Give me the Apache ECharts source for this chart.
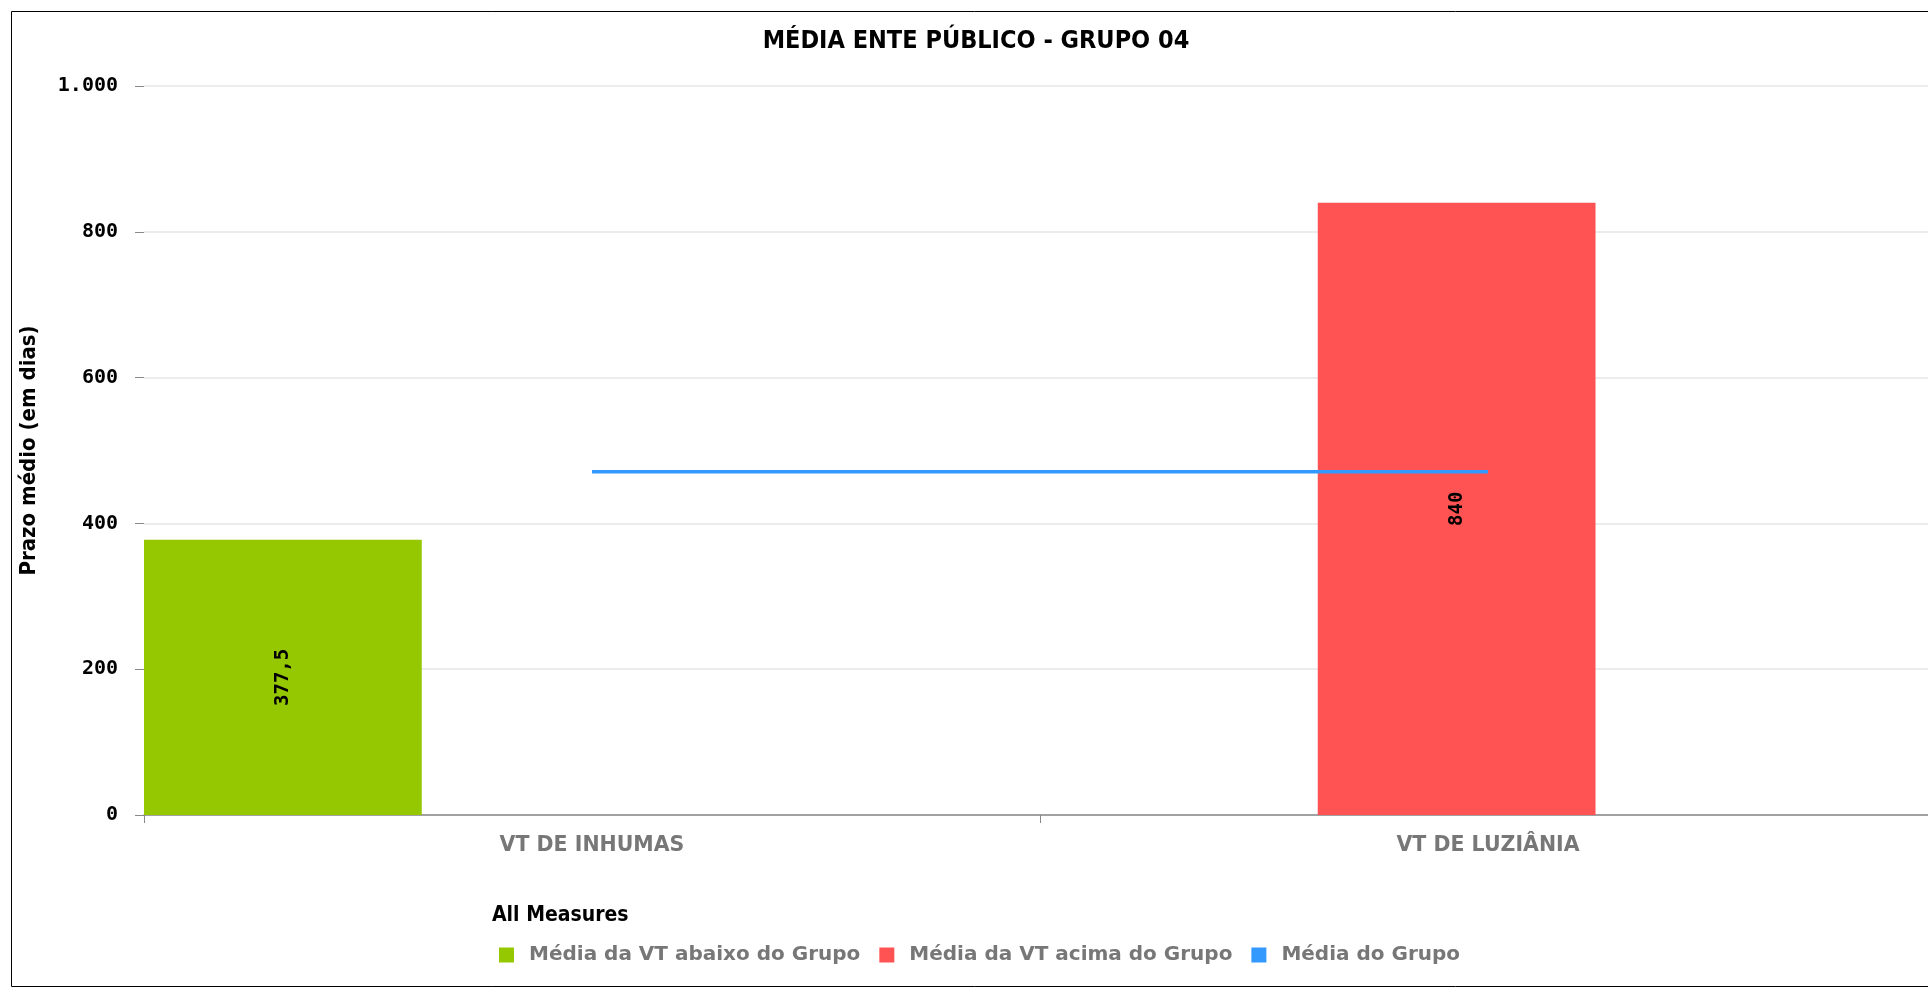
<!DOCTYPE html>
<html>
<head>
<meta charset="utf-8">
<script src="https://cdn.jsdelivr.net/npm/echarts@6/dist/echarts.min.js"></script>
<style>
  html, body { margin: 0; padding: 0; background: #ffffff; overflow: hidden; }
  #chart { width: 1936px; height: 990px; }
</style>
</head>
<body>
<div id="chart"></div>
<script>
// ---- data ----
const titleText = 'MÉDIA ENTE PÚBLICO - GRUPO 04';
const yAxisName = 'Prazo médio (em dias)';
const legendTitle = 'All Measures';
const categories = ['VT DE INHUMAS', 'VT DE LUZIÂNIA'];
const seriesNames = ['Média da VT abaixo do Grupo', 'Média da VT acima do Grupo', 'Média do Grupo'];
const abaixoGrupo = [377.5, null];
const acimaGrupo = [null, 840];
const mediaGrupo = [471, 471];
const yTicks = [0, 200, 400, 600, 800, 1000];

// ---- styles ----
const colors = ['#95C800', '#FF5353', '#3399FF'];
const monoBold = 'bold 19px "DejaVu Sans Mono"';

function fmtNum(v) {
  const s = String(v).split('.');
  const intPart = s[0].replace(/\B(?=(\d{3})+(?!\d))/g, '.');
  return s.length > 1 ? intPart + ',' + s[1] : intPart;
}

function barRenderer(slot) {
  return function (params, api) {
    const v = api.value(1);
    if (v == null || isNaN(v)) return null;
    const idx = api.value(0);
    const band = api.size([1, 0])[0];
    const slotW = band * 0.31;
    const top = api.coord([idx, v]);
    const base = api.coord([idx, 0]);
    const x0 = base[0] - band / 2 + slot * slotW;
    return {
      type: 'rect',
      shape: { x: x0, y: top[1], width: slotW, height: base[1] - top[1] },
      style: { fill: colors[slot] },
      textContent: {
        style: { text: fmtNum(v), font: monoBold, fill: '#000' }
      },
      textConfig: { position: 'inside', rotation: Math.PI / 2 }
    };
  };
}

const chart = echarts.init(document.getElementById('chart'), null, { renderer: 'canvas' });
chart.setOption({
  animation: false,
  backgroundColor: '#ffffff',
  title: [
    {
      text: titleText,
      left: 971, top: 24, textAlign: 'center',
      textStyle: { fontFamily: 'DejaVu Sans Condensed', fontWeight: 'bold', fontSize: 25, color: '#000' }
    },
    {
      text: legendTitle,
      left: 487, top: 900,
      textStyle: { fontFamily: 'DejaVu Sans Condensed', fontWeight: 'bold', fontSize: 21, color: '#000' }
    }
  ],
  graphic: [
    {
      type: 'polyline', silent: true, z: -1,
      shape: { points: [[1990, 11.5], [11.5, 11.5], [11.5, 986.5], [1990, 986.5]] },
      style: { fill: 'none', stroke: '#000', lineWidth: 1 }
    }
  ],
  legend: {
    left: 494, top: 940,
    itemWidth: 15, itemHeight: 15, itemGap: 19,
    textStyle: { fontFamily: 'DejaVu Sans', fontWeight: 'bold', fontSize: 20, color: '#777', padding: [0, 0, 0, 10] },
    data: [
      { name: seriesNames[0], icon: 'rect', itemStyle: { color: colors[0] } },
      { name: seriesNames[1], icon: 'rect', itemStyle: { color: colors[1] } },
      { name: seriesNames[2], icon: 'rect', itemStyle: { color: colors[2] } }
    ]
  },
  grid: { left: 144, top: 86, right: 0, bottom: 175, containLabel: false },
  xAxis: {
    type: 'category',
    data: categories,
    boundaryGap: true,
    axisLine: { lineStyle: { color: '#888', width: 1.5 } },
    axisTick: { show: true, length: 8, lineStyle: { color: '#888' } },
    axisLabel: { color: '#777', fontFamily: 'DejaVu Sans', fontWeight: 'bold', fontSize: 20.5, margin: 20 },
    splitLine: { show: false }
  },
  yAxis: {
    type: 'value',
    min: yTicks[0], max: yTicks[yTicks.length - 1], interval: yTicks[1] - yTicks[0],
    name: yAxisName,
    nameLocation: 'middle',
    nameRotate: 90,
    nameGap: 104,
    nameTextStyle: { fontFamily: 'DejaVu Sans Condensed', fontWeight: 'bold', fontSize: 22, color: '#000' },
    axisLine: { show: false },
    axisTick: { show: true, length: 9, lineStyle: { color: '#888' } },
    axisLabel: { formatter: fmtNum, fontFamily: 'DejaVu Sans Mono', fontWeight: 'bold', fontSize: 20, color: '#000', margin: 26 },
    splitLine: { lineStyle: { color: '#e6e6e6', width: 1.5 } }
  },
  series: [
    {
      name: seriesNames[0], type: 'custom', coordinateSystem: 'cartesian2d',
      itemStyle: { color: colors[0] },
      encode: { x: 0, y: 1 },
      data: abaixoGrupo.map((v, i) => [i, v]),
      renderItem: barRenderer(0), z: 2
    },
    {
      name: seriesNames[1], type: 'custom', coordinateSystem: 'cartesian2d',
      itemStyle: { color: colors[1] },
      encode: { x: 0, y: 1 },
      data: acimaGrupo.map((v, i) => [i, v]),
      renderItem: barRenderer(1), z: 2
    },
    {
      name: seriesNames[2], type: 'line',
      data: mediaGrupo,
      showSymbol: false, symbol: 'none',
      lineStyle: { color: colors[2], width: 3.5 },
      itemStyle: { color: colors[2] },
      z: 5
    }
  ]
});
</script>
</body>
</html>
